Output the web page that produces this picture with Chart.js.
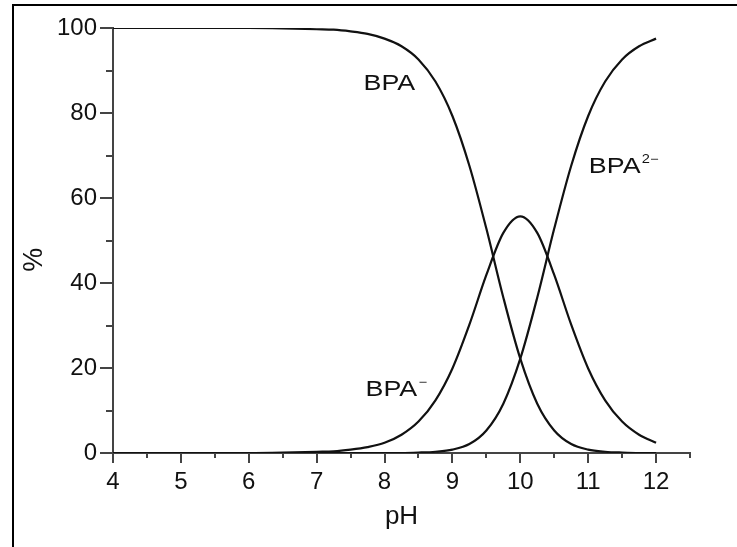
<!DOCTYPE html>
<html>
<head>
<meta charset="utf-8">
<title>BPA speciation vs pH</title>
<script src="https://cdn.jsdelivr.net/npm/chart.js@4/dist/chart.umd.min.js"></script>
<style>
  html, body { margin: 0; padding: 0; background: #fff; }
  #wrap { position: relative; width: 737px; height: 547px; }
</style>
</head>
<body>
<div id="wrap"><canvas id="speciation"></canvas></div>
<script>
// values (percent of each species)
const pH       = [4, 4.5, 5, 5.5, 6, 6.5, 7, 7.25, 7.5, 7.75, 8, 8.25, 8.5, 8.75, 9, 9.25, 9.5, 9.75, 10, 10.25, 10.5, 10.75, 11, 11.25, 11.5, 11.75, 12];
const bpa      = [100, 100, 100, 100, 100, 99.9, 99.7, 99.6, 99.2, 98.6, 97.5, 95.7, 92.6, 87.4, 79.3, 67.6, 52.8, 36.6, 22.2, 11.6, 5.3, 2.1, 0.8, 0.3, 0.1, 0, 0];
const bpaMinus = [0, 0, 0, 0, 0, 0.1, 0.3, 0.4, 0.8, 1.4, 2.4, 4.3, 7.4, 12.4, 19.9, 30.2, 41.9, 51.8, 55.7, 51.8, 41.9, 30.2, 19.9, 12.4, 7.4, 4.3, 2.4];
const bpaDi    = [0, 0, 0, 0, 0, 0, 0, 0, 0, 0, 0, 0, 0.1, 0.3, 0.8, 2.1, 5.3, 11.6, 22.2, 36.6, 52.8, 67.6, 79.3, 87.4, 92.6, 95.7, 97.5];

const xMinorTicks = [4.5, 5.5, 6.5, 7.5, 8.5, 9.5, 10.5, 11.5, 12.5];
const yMinorTicks = [10, 30, 50, 70, 90];

// curve labels, placed in data units
const curveLabels = [
    { text: "BPA", sup: "", ph: 7.69, pct: 85.4 },
    { text: "BPA", sup: "\u2212", ph: 7.72, pct: 13.4 },
    { text: "BPA", sup: "2\u2212", ph: 11.01, pct: 65.8 }
];

const axisColor = "#444";
const inkColor = "#111";
const fontFamily = '"Liberation Sans", Arial, Helvetica, sans-serif';

Chart.defaults.font.family = fontFamily;
Chart.defaults.color = inkColor;

function toPoints(values) {
    return pH.map((x, i) => ({ x: x, y: values[i] }));
}

function curve(label, values) {
    return {
        label: label,
        data: toPoints(values),
        borderColor: inkColor,
        borderWidth: 2.2,
        pointRadius: 0,
        showLine: true,
        fill: false,
        cubicInterpolationMode: "monotone"
    };
}

const decorations = {
    id: "decorations",
    beforeDraw(chart) {
        let ctx = chart.ctx;
        ctx.save();
        ctx.strokeStyle = "#000";
        ctx.lineWidth = 2;
        ctx.beginPath();
        ctx.moveTo(13, chart.height);
        ctx.lineTo(13, 5);
        ctx.lineTo(chart.width, 5);
        ctx.stroke();
        ctx.restore();
    },
    afterDraw(chart) {
        let ctx = chart.ctx;
        let area = chart.chartArea;
        let xs = chart.scales.x;
        let ys = chart.scales.y;

        // minor ticks
        ctx.save();
        ctx.strokeStyle = axisColor;
        ctx.lineWidth = 2;
        ctx.beginPath();
        xMinorTicks.forEach(v => {
            let px = Math.round(xs.getPixelForValue(v));
            ctx.moveTo(px, area.bottom);
            ctx.lineTo(px, area.bottom + 5);
        });
        yMinorTicks.forEach(v => {
            let py = Math.round(ys.getPixelForValue(v));
            ctx.moveTo(area.left, py);
            ctx.lineTo(area.left - 7, py);
        });
        ctx.stroke();
        ctx.restore();

        // y axis title, sits a little below the middle in the original
        ctx.save();
        ctx.fillStyle = inkColor;
        ctx.font = "27px " + fontFamily;
        ctx.translate(35, ys.getPixelForValue(45.5));
        ctx.rotate(-Math.PI / 2);
        ctx.textAlign = "center";
        ctx.textBaseline = "middle";
        ctx.fillText("%", 0, 0);
        ctx.restore();

        // species labels (the original text is stretched sideways)
        curveLabels.forEach(l => {
            let px = xs.getPixelForValue(l.ph);
            let py = ys.getPixelForValue(l.pct);
            ctx.save();
            ctx.fillStyle = inkColor;
            ctx.textBaseline = "alphabetic";
            ctx.translate(px, py);
            ctx.scale(1.22, 1);
            ctx.font = "22px " + fontFamily;
            ctx.fillText(l.text, 0, 0);
            let w = ctx.measureText(l.text).width;
            if (l.sup) {
                ctx.font = "12px " + fontFamily;
                ctx.fillText(l.sup, w + 1, -10);
            }
            ctx.restore();
        });
    }
};

new Chart(document.getElementById("speciation"), {
    type: "scatter",
    data: {
        datasets: [
            curve("BPA", bpa),
            curve("BPA-", bpaMinus),
            curve("BPA2-", bpaDi)
        ]
    },
    options: {
        responsive: true,
        maintainAspectRatio: false,
        animation: false,
        layout: { padding: { top: 28, right: 47, left: 0, bottom: 0 } },
        plugins: {
            legend: { display: false },
            tooltip: { enabled: false }
        },
        scales: {
            x: {
                type: "linear",
                min: 4,
                max: 12.5,
                afterFit(scale) { scale.height = 94; },
                border: { display: true, color: axisColor, width: 2 },
                grid: { drawOnChartArea: false, drawTicks: true, tickLength: 10, tickColor: axisColor, lineWidth: 2 },
                ticks: {
                    stepSize: 1,
                    includeBounds: false,
                    padding: 5,
                    color: inkColor,
                    font: { size: 24 }
                },
                title: {
                    display: true,
                    text: "pH",
                    color: inkColor,
                    font: { size: 26 },
                    padding: { top: 0, bottom: 15 }
                }
            },
            y: {
                min: 0,
                max: 100,
                afterFit(scale) { scale.width = 113; },
                border: { display: true, color: axisColor, width: 2 },
                grid: { drawOnChartArea: false, drawTicks: true, tickLength: 13, tickColor: axisColor, lineWidth: 2 },
                ticks: {
                    stepSize: 20,
                    padding: 3,
                    color: inkColor,
                    font: { size: 24 }
                }
            }
        }
    },
    plugins: [decorations]
});
</script>
</body>
</html>
